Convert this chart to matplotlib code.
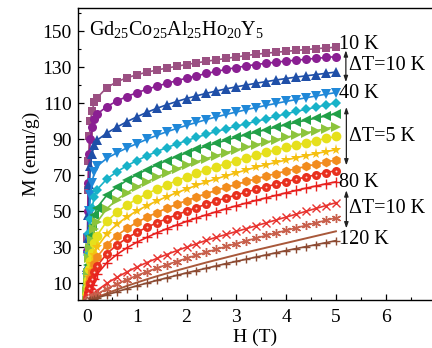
import matplotlib
matplotlib.use("Agg")
import matplotlib.pyplot as plt
from matplotlib.ticker import MultipleLocator, FixedLocator

plt.rcParams['font.family'] = ['Liberation Serif', 'DejaVu Serif']
plt.rcParams['mathtext.fontset'] = 'custom'
plt.rcParams['mathtext.rm'] = 'Liberation Serif'
plt.rcParams['mathtext.it'] = 'Liberation Serif:italic'

H = [0, 0.01, 0.02, 0.03, 0.05, 0.07, 0.1, 0.15, 0.2, 0.4, 0.6, 0.8, 1.0, 1.2, 1.4, 1.6, 1.8, 2.0,
     2.2, 2.4, 2.6, 2.8, 3.0, 3.2, 3.4, 3.6, 3.8, 4.0, 4.2, 4.4, 4.6, 4.8, 5.0]

temperatures = ["10 K", "20 K", "30 K", "40 K", "45 K", "50 K", "55 K", "60 K",
                "65 K", "70 K", "75 K", "80 K", "90 K", "100 K", "110 K", "120 K"]

M_10K = [0, 35, 62, 78, 92, 100, 106, 110.5, 113, 118.8, 122, 124.2, 125.9, 127.3, 128.5, 129.6, 130.6, 131.6,
         132.5, 133.4, 134.2, 135.0, 135.8, 136.6, 137.3, 137.9, 138.4, 138.9, 139.4, 139.9, 140.4, 140.8, 141.2]
M_20K = [0, 28, 50, 66, 82, 90, 97, 101.5, 104, 108.2, 111.3, 113.8, 115.9, 117.8, 119.5, 121.1, 122.6, 124.0,
         125.3, 126.6, 127.8, 128.9, 129.9, 130.8, 131.6, 132.3, 132.9, 133.5, 134.0, 134.5, 135.0, 135.5, 136.0]
M_30K = [0, 19, 35, 48, 65, 75, 82, 87, 89.5, 93.5, 96.8, 99.8, 102.5, 105, 107.2, 109.2, 111, 112.7,
         114.2, 115.6, 116.9, 118.1, 119.2, 120.2, 121.2, 122.1, 123, 123.8, 124.6, 125.3, 126.0, 126.7, 127.4]
M_40K = [0, 13, 25, 35, 50, 59, 66, 72, 75, 79.5, 82.5, 85.2, 87.6, 90, 92.2, 94.2, 96, 97.8,
         99.4, 101, 102.5, 103.9, 105.2, 106.5, 107.7, 108.9, 110, 111.1, 112.1, 113.1, 114.1, 115.1, 116]
M_45K = [0, 9, 18, 26, 38, 46, 52, 58, 62, 68, 72, 75.3, 78.2, 80.8, 83.2, 85.4, 87.4, 89.3,
         91.1, 92.8, 94.4, 95.9, 97.3, 98.7, 100, 101.4, 102.8, 104.2, 105.5, 106.7, 107.9, 109.1, 110.2]
M_50K = [0, 7, 14, 20, 30, 36.5, 42, 48, 52, 59, 63.5, 67.2, 70.4, 73.2, 75.8, 78.2, 80.4, 82.5,
         84.4, 86.2, 87.9, 89.5, 91.1, 92.6, 94, 95.4, 96.8, 98.1, 99.4, 100.6, 101.8, 103, 104.2]
M_55K = [0, 5.5, 11, 16, 24, 29.5, 34, 40, 44, 51.5, 56.5, 60.3, 63.5, 66.3, 68.9, 71.3, 73.5, 75.6,
         77.5, 79.3, 81, 82.6, 84.1, 85.6, 87, 88.4, 89.8, 91.1, 92.4, 93.6, 94.8, 96, 97.1]
M_60K = [0, 4, 8, 12, 18, 22.5, 27, 32.5, 36.5, 44.5, 49.5, 53.5, 56.8, 59.7, 62.3, 64.7, 67, 69.1,
         71.1, 73, 74.8, 76.5, 78.1, 79.7, 81.2, 82.7, 84.1, 85.5, 86.8, 88.1, 89.3, 90.5, 91.6]
M_65K = [0, 3, 6, 9, 13.5, 17.5, 21, 26, 30, 37.5, 42.8, 46.8, 50.2, 53.1, 55.7, 58.1, 60.3, 62.4,
         64.4, 66.3, 68.1, 69.8, 71.4, 73, 74.5, 75.9, 77.2, 78.5, 79.8, 81, 82.1, 83.2, 84.2]
M_70K = [0, 2.2, 4.5, 6.5, 10, 13, 16.5, 21, 24.5, 31.5, 36.5, 40.5, 43.8, 46.7, 49.3, 51.7, 53.9, 56,
         58, 59.9, 61.7, 63.4, 65, 66.6, 68.1, 69.6, 71, 72.4, 73.7, 75, 76.2, 77.4, 78.5]
M_75K = [0, 1.5, 3, 4.5, 7.5, 10, 12.5, 16.5, 19.5, 26.5, 31.3, 35.1, 38.3, 41.1, 43.6, 45.9, 48.1, 50.1,
         52.1, 54, 55.8, 57.5, 59.1, 60.7, 62.2, 63.7, 65.1, 66.5, 67.8, 69.1, 70.3, 71.5, 72.6]
M_80K = [0, 1, 2, 3, 5, 7, 9, 12.5, 15, 21.5, 26, 29.7, 32.8, 35.5, 38, 40.3, 42.4, 44.4,
         46.3, 48.1, 49.8, 51.5, 53.1, 54.6, 56.1, 57.5, 58.9, 60.3, 61.6, 62.9, 64.1, 65.3, 66.4]
M_90K = [0, 0.4, 0.8, 1.1, 1.8, 2.5, 3.3, 4.7, 6, 10, 13.3, 16.3, 19, 21.5, 23.8, 26, 28.1, 30.1,
         32, 33.9, 35.6, 37.2, 38.8, 40.4, 42, 43.6, 45.2, 46.8, 48.4, 50, 51.6, 53.2, 54.8]
M_100K = [0, 0.25, 0.5, 0.7, 1.2, 1.6, 2.2, 3.1, 4, 7, 9.6, 12, 14.3, 16.4, 18.4, 20.3, 22.1, 23.9,
          25.6, 27.3, 28.9, 30.5, 32.1, 33.6, 35.1, 36.6, 38, 39.4, 40.8, 42.2, 43.6, 45, 46.4]
M_110K = [0, 0.12, 0.25, 0.35, 0.6, 0.8, 1.1, 1.7, 2.2, 4.4, 6.5, 8.5, 10.4, 12.2, 13.9, 15.5, 17.1, 18.6,
          20.1, 21.6, 23, 24.4, 25.8, 27.2, 28.5, 29.8, 31.1, 32.4, 33.7, 35, 36.3, 37.6, 38.9]
M_120K = [0, 0.1, 0.2, 0.28, 0.45, 0.63, 0.9, 1.35, 1.8, 3.6, 5.3, 7, 8.6, 10.1, 11.6, 13, 14.4, 15.8,
          17.1, 18.4, 19.7, 21, 22.2, 23.4, 24.6, 25.8, 27, 28.2, 29.3, 30.4, 31.5, 32.6, 33.7]

series = [M_10K, M_20K, M_30K, M_40K, M_45K, M_50K, M_55K, M_60K,
          M_65K, M_70K, M_75K, M_80K, M_90K, M_100K, M_110K, M_120K]

colors = ['#9b5082', '#8a1f92', '#1f4fa8', '#2088d8', '#18b2c8', '#22a048', '#8cc43c', '#e6e01c',
          '#f5c012', '#f28c1e', '#e8301e', '#e8201e', '#e83430', '#c8604c', '#a8583a', '#8c4a32']
markers = ['s', 'o', '^', 'v', 'D', '<', '>', 'o', '*', 'h', 'o', '+', 'x', (6, 2, 0), None, '+']
msizes = [6, 6.5, 6.5, 6.5, 5.5, 6.5, 6.5, 7, 8, 7, 6.5, 6.5, 5.5, 6.5, 0, 5.5]

fig = plt.figure(figsize=(4.32, 3.48), dpi=100)
ax = fig.add_axes([78 / 432, 48.5 / 348, 355 / 432, 291.5 / 348])

for M, c, mk, ms in zip(series, colors, markers, msizes):
    if mk is None:
        ax.plot(H, M, color=c, lw=1.4)
    elif mk in ('+', 'x') or isinstance(mk, tuple):
        ax.plot(H, M, color=c, lw=1.2, marker=mk, ms=ms, mew=1.0)
    else:
        ax.plot(H, M, color=c, lw=1.2, marker=mk, ms=ms, mew=0, mfc=c)
# small highlight on the 75 K spheres
ax.plot(H, M_75K, ls='none', marker='o', ms=1.4, mfc='#ffd8d0', mew=0)

ax.set_xlim(-0.18, 6.95)
ax.set_ylim(1, 163)
ax.xaxis.set_major_locator(FixedLocator([0, 1, 2, 3, 4, 5, 6]))
ax.xaxis.set_minor_locator(MultipleLocator(0.5))
ax.yaxis.set_major_locator(FixedLocator([10, 30, 50, 70, 90, 110, 130, 150]))
ax.yaxis.set_minor_locator(FixedLocator([20, 40, 60, 80, 100, 120, 140, 160]))
ax.tick_params(which='both', direction='in', top=False, right=False, labelsize=14)
ax.tick_params(which='major', length=4, width=0.9)
ax.tick_params(which='minor', length=2.5, width=0.8)
ax.tick_params(axis='x', which='major', pad=6.5)
ax.tick_params(axis='y', which='major', pad=4.5)
for s in ax.spines.values():
    s.set_linewidth(1.0)

ax.set_xlabel('H (T)', fontsize=14, labelpad=2.5)
ax.set_ylabel('M (emu/g)', fontsize=14, labelpad=2)

ax.text(0.05, 151, r'Gd$_{25}$Co$_{25}$Al$_{25}$Ho$_{20}$Y$_5$', fontsize=14.5, va='center', ha='left')

labels = [("10 K", 5.06, 142.5), ("40 K", 5.06, 115.5), ("80 K", 5.06, 66), ("120 K", 5.06, 34.5),
          ("ΔT=10 K", 5.26, 131), ("ΔT=5 K", 5.26, 91.5), ("ΔT=10 K", 5.26, 51.5)]
for t, x, y in labels:
    ax.text(x, y, t, fontsize=14.5, va='center', ha='left')

arrows = [(5.2, 139.5, 121.8), (5.21, 108, 75.5), (5.21, 61.7, 40.5)]
for x, y0, y1 in arrows:
    ax.annotate('', xy=(x, y1), xytext=(x, y0),
                arrowprops=dict(arrowstyle='<|-|>,head_length=0.35,head_width=0.12', color='#222222', lw=0.9,
                                shrinkA=0, shrinkB=0))

fig.savefig('out.png', dpi=100)
